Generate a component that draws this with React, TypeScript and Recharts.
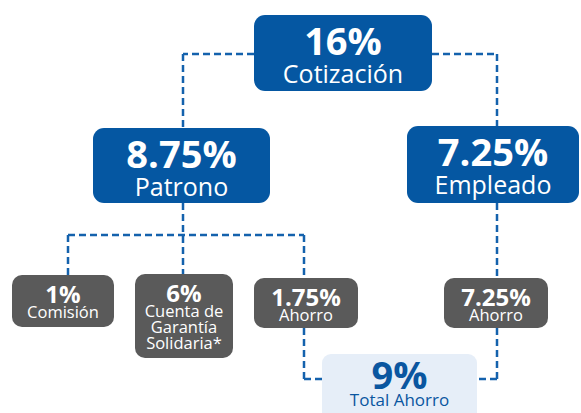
import React from "react";
import { ScatterChart, Scatter, XAxis, YAxis, ReferenceLine } from "recharts";

const FONT = "'Open Sans', sans-serif";
const W = 581;
const H = 413;

// node content
const NODE_IDS = ["total", "patrono", "empleado", "comision", "cuenta", "ahorroP", "ahorroE", "totalAhorro"];
const NODE_VALUES = ["16%", "8.75%", "7.25%", "1%", "6%", "1.75%", "7.25%", "9%"];
const NODE_LABELS = [
  ["Cotización"],
  ["Patrono"],
  ["Empleado"],
  ["Comisión"],
  ["Cuenta de", "Garantía", "Solidaria*"],
  ["Ahorro"],
  ["Ahorro"],
  ["Total Ahorro"],
];
const NODE_KIND = ["main", "main", "main", "part", "part", "part", "part", "sum"];
// layout (diagram units)
const NODE_X = [343, 181.5, 493, 63, 184, 306, 496, 399.5];
const NODE_Y = [53, 165.5, 164.5, 301, 316, 303, 303, 389];

// connector polylines (diagram units)
const LINKS: [number, number][][] = [
  [[254, 54], [183, 54], [183, 128]],
  [[432, 54], [497, 54], [497, 126]],
  [[183, 203], [183, 274]],
  [[68, 275], [68, 235], [304, 235], [304, 278]],
  [[497, 203], [497, 278]],
  [[304, 328], [304, 379], [322, 379]],
  [[497, 328], [497, 379], [477, 379]],
];

const BOX: Record<string, { w: number; h: number }> = {
  total: { w: 178, h: 76 },
  patrono: { w: 177, h: 75 },
  empleado: { w: 172, h: 77 },
  comision: { w: 102, h: 52 },
  cuenta: { w: 98, h: 84 },
  ahorroP: { w: 104, h: 50 },
  ahorroE: { w: 104, h: 50 },
  totalAhorro: { w: 155, h: 70 },
};

const BLUE = "#0557a2";
const LINE = "#1462ad";
const GRAY = "#5a5a5a";

const nodes = NODE_IDS.map((id, i) => ({
  id,
  x: NODE_X[i],
  y: NODE_Y[i],
  value: NODE_VALUES[i],
  label: NODE_LABELS[i],
  kind: NODE_KIND[i],
}));

const NodeShape = (props: any) => {
  const { cx, cy, payload } = props;
  if (cx === undefined || cy === undefined) return null;
  const { w, h: hh } = BOX[payload.id];
  const h = payload.kind === "sum" ? 70 : hh;
  const left = cx - w / 2;
  const top = payload.kind === "sum" ? cy - 35 : cy - h / 2;
  if (payload.kind === "main") {
    return (
      <g>
        <rect x={left} y={top} width={w} height={h} rx={11} fill={BLUE} />
        <text x={cx} y={top + 40} textAnchor="middle" fill="#fff" fontSize={38} fontWeight={700} fontFamily={FONT}>
          {payload.value}
        </text>
        <text x={cx} y={top + 68} textAnchor="middle" fill="#fff" fontSize={25} fontFamily={FONT}>
          {payload.label[0]}
        </text>
      </g>
    );
  }
  if (payload.kind === "part") {
    return (
      <g>
        <rect x={left} y={top} width={w} height={h} rx={10} fill={GRAY} />
        <text x={cx} y={top + 28} textAnchor="middle" fill="#fff" fontSize={24} fontWeight={700} fontFamily={FONT}>
          {payload.value}
        </text>
        {payload.label.map((t: string, i: number) => (
          <text key={i} x={cx} y={top + 43 + i * 16} textAnchor="middle" fill="#fff" fontSize={16.5} fontFamily={FONT}>
            {t}
          </text>
        ))}
      </g>
    );
  }
  return (
    <g>
      <rect x={left} y={top} width={w} height={h} rx={9} fill="#e6eef8" />
      <text x={cx} y={top + 35} textAnchor="middle" fill="#0a56a0" fontSize={38} fontWeight={700} fontFamily={FONT}>
        {payload.value}
      </text>
      <text x={cx} y={top + 52} textAnchor="middle" fill="#0a56a0" fontSize={17} fontFamily={FONT}>
        {payload.label[0]}
      </text>
    </g>
  );
};

export default function App() {
  const segments: [number, number][][] = [];
  LINKS.forEach((pl) => {
    for (let i = 0; i < pl.length - 1; i++) segments.push([pl[i], pl[i + 1]]);
  });
  return (
    <div style={{ position: "fixed", left: 0, top: 0, width: W, height: H, background: "#fff" }}>
      <ScatterChart width={W} height={H} margin={{ top: 0, right: 0, bottom: 0, left: 0 }}>
        <XAxis type="number" dataKey="x" domain={[0, W]} hide allowDataOverflow />
        <YAxis type="number" dataKey="y" domain={[0, H]} hide reversed allowDataOverflow />
        {segments.map((s, i) => (
          <ReferenceLine
            key={i}
            segment={[
              { x: s[0][0], y: s[0][1] },
              { x: s[1][0], y: s[1][1] },
            ]}
            stroke={LINE}
            strokeWidth={2.5}
            strokeDasharray="7 4"
            ifOverflow="visible"
          />
        ))}
        <Scatter data={nodes} shape={<NodeShape />} isAnimationActive={false} />
      </ScatterChart>
    </div>
  );
}
